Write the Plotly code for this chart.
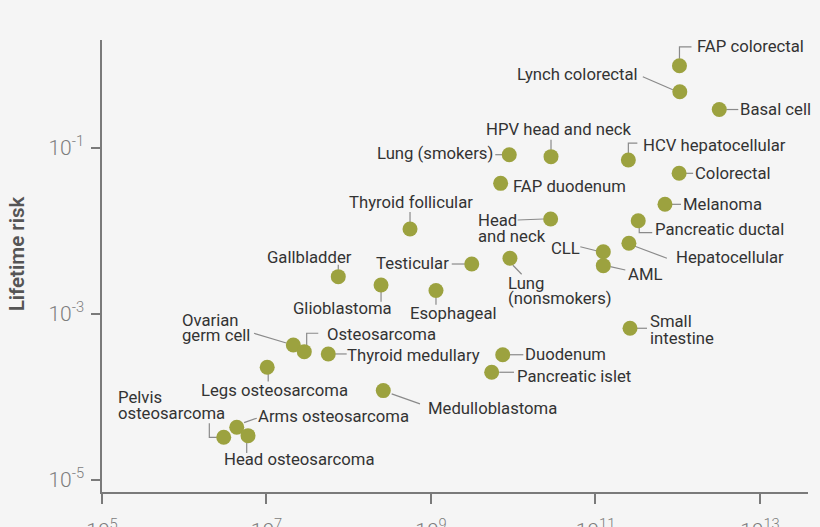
import math
import plotly.graph_objects as go

# ---------------- data ----------------
cancer_types = [
    "FAP colorectal", "Lynch colorectal", "Basal cell", "Lung (smokers)",
    "HPV head and neck", "HCV hepatocellular", "Colorectal", "FAP duodenum",
    "Melanoma", "Head and neck", "Pancreatic ductal", "Hepatocellular",
    "CLL", "AML", "Lung (nonsmokers)", "Testicular", "Thyroid follicular",
    "Gallbladder", "Glioblastoma", "Esophageal", "Small intestine",
    "Ovarian germ cell", "Osteosarcoma", "Thyroid medullary", "Duodenum",
    "Pancreatic islet", "Legs osteosarcoma", "Medulloblastoma",
    "Arms osteosarcoma", "Pelvis osteosarcoma", "Head osteosarcoma",
]
stem_cell_divisions = [
    1.05e12, 1.06e12, 3.2e12, 8.95e9,
    2.88e10, 2.51e11, 1.04e12, 7.03e9,
    7.0e11, 2.85e10, 3.31e11, 2.55e11,
    1.245e11, 1.245e11, 9.12e9, 3.13e9, 5.56e8,
    7.46e7, 2.47e8, 1.15e9, 2.63e11,
    2.12e7, 2.88e7, 5.64e7, 7.45e9,
    5.47e9, 1.02e7, 2.63e8,
    4.35e6, 3.02e6, 5.96e6,
]
lifetime_risk = [
    0.975, 0.475, 0.29, 0.0828,
    0.0784, 0.0714, 0.0494, 0.0374,
    0.0209, 0.0139, 0.01327, 0.0071,
    0.00561, 0.00381, 0.00468, 0.00399, 0.01055,
    0.00281, 0.00223, 0.00191, 0.000671,
    0.000422, 0.000351, 0.000329, 0.000322,
    0.000198, 0.000228, 0.000119,
    0.0000431, 0.0000326, 0.0000341,
]
x_tick_values = [1e5, 1e7, 1e9, 1e11, 1e13]
x_tick_labels = ["10<sup>5</sup>", "10<sup>7</sup>", "10<sup>9</sup>", "10<sup>11</sup>", "10<sup>13</sup>"]
y_tick_values = [1e-5, 1e-3, 1e-1]
y_tick_labels = ["10<sup>-5</sup>", "10<sup>-3</sup>", "10<sup>-1</sup>"]
y_title = "Lifetime risk"

# ---------------- label placement (pixel offsets from each dot, screen-down positive) ----------------
L = {
    "FAP colorectal": dict(a="left", dx=18, dy=[-19.7], path=[(0, -7), (0, -19), (12, -19)]),
    "Lynch colorectal": dict(a="right", dx=-42, dy=[-17.4], path=[(-7, -2), (-37, -15)]),
    "Basal cell": dict(a="left", dx=21, dy=[0], path=[(7, 0), (19, 0)]),
    "Lung (smokers)": dict(a="right", dx=-16.6, dy=[-1], path=[(-7, 0), (-14, 0)]),
    "HPV head and neck": dict(a="center", dx=7.5, dy=[-27.4], path=[(0, -7), (0, -17)]),
    "HCV hepatocellular": dict(a="left", dx=15, dy=[-15], path=[(0, -7), (0, -17), (9, -17)]),
    "Colorectal": dict(a="left", dx=16, dy=[0.5], path=[(7, 0), (14, 0)]),
    "FAP duodenum": dict(a="left", dx=12.6, dy=[3.4], path=None),
    "Melanoma": dict(a="left", dx=18.3, dy=[0], path=[(7, 0), (16, 0)]),
    "Head and neck": dict(a="left", dx=-72.4, dy=[1, 17.7], lines=["Head", "and neck"], path=[(-7, 0), (-33, 1)]),
    "Pancreatic ductal": dict(a="left", dx=16.7, dy=[8.6], path=[(1, 6), (1, 12), (14, 12)]),
    "Hepatocellular": dict(a="left", dx=47, dy=[14], path=[(6, 3), (38, 15)]),
    "CLL": dict(a="right", dx=-23.3, dy=[-3.4], path=[(-7, -1), (-23, -5)]),
    "AML": dict(a="left", dx=24.4, dy=[9.3], path=[(7, 1), (22, 4.3)]),
    "Lung (nonsmokers)": dict(a="left", dx=-2.3, dy=[25, 40], lines=["Lung", "(nonsmokers)"], path=[(3, 7), (11.7, 16)]),
    "Testicular": dict(a="right", dx=-22.4, dy=[-0.7], path=[(-7, 0), (-20, 0)]),
    "Thyroid follicular": dict(a="center", dx=0.8, dy=[-26.3], path=[(0, -7), (0, -17)]),
    "Gallbladder": dict(a="right", dx=13.4, dy=[-19.4], path=[(0, -7), (0, -12)]),
    "Glioblastoma": dict(a="right", dx=10.7, dy=[23.3], path=[(0, 7), (0, 16.7)]),
    "Esophageal": dict(a="left", dx=-26, dy=[23.3], path=[(0, 7), (0, 14.3)]),
    "Small intestine": dict(a="left", dx=20, dy=[-7, 10], lines=["Small", "intestine"], path=[(7, 0), (17, 0)]),
    "Ovarian germ cell": dict(a="left", dx=-111.6, dy=[-24.3, -9], lines=["Ovarian", "germ cell"], path=[(-7, -2), (-39.3, -11.7)]),
    "Osteosarcoma": dict(a="left", dx=22.4, dy=[-17], path=[(2.4, -6.7), (2.4, -18.4), (14, -18.4)]),
    "Thyroid medullary": dict(a="left", dx=18.4, dy=[2], path=[(7, 0), (18.4, 0)]),
    "Duodenum": dict(a="left", dx=22.3, dy=[0], path=[(7, 0), (20.6, 0)]),
    "Pancreatic islet": dict(a="left", dx=25.6, dy=[4.4], path=[(7.6, 0), (22.3, 0)]),
    "Legs osteosarcoma": dict(a="center", dx=6.9, dy=[23.7], path=[(1, 6.7), (1, 14.4)]),
    "Medulloblastoma": dict(a="left", dx=45, dy=[17.6], path=[(8.4, 3.3), (36.7, 13.3)]),
    "Arms osteosarcoma": dict(a="left", dx=21.6, dy=[-10.6], path=[(7.3, -4.6), (20, -9)]),
    "Pelvis osteosarcoma": dict(a="left", dx=-105.4, dy=[-40, -23.3], lines=["Pelvis", "osteosarcoma"], path=[(-7, 0), (-14.4, 0), (-14.4, -14)]),
    "Head osteosarcoma": dict(a="left", dx=-23.7, dy=[23.6], path=[(-1.3, 7.3), (-1.3, 17.3)]),
}

BG = "#f5f5f5"
DOT = "#9ca23f"
AXIS = "#7a7a7a"
LEADER = "#8a8a8a"
TXT = "#333333"
FONT = "Roboto"

fig = go.Figure()
fig.add_trace(go.Scatter(
    x=stem_cell_divisions, y=lifetime_risk, mode="markers", text=cancer_types,
    marker=dict(size=15, color=DOT, line=dict(width=0)),
    hoverinfo="text", showlegend=False,
))

annotations = []
shapes = []
for name, xv, yv in zip(cancer_types, stem_cell_divisions, lifetime_risk):
    cfg = L[name]
    lines = cfg.get("lines", [name])
    for txt, dy in zip(lines, cfg["dy"]):
        annotations.append(dict(
            x=math.log10(xv), y=math.log10(yv), xref="x", yref="y",
            text=txt, showarrow=False, xanchor=cfg["a"], yanchor="middle",
            xshift=cfg["dx"], yshift=-dy, borderpad=0, borderwidth=0,
            font=dict(family=FONT, size=16.7, color=TXT),
        ))
    if cfg["path"]:
        pts = cfg["path"]
        d = "M %s,%s " % (pts[0][0], -pts[0][1]) + " ".join("L %s,%s" % (px, -py) for px, py in pts[1:])
        shapes.append(dict(
            type="path", path=d, xref="x", yref="y",
            xsizemode="pixel", ysizemode="pixel", xanchor=xv, yanchor=yv,
            line=dict(color=LEADER, width=1.2), layer="below",
        ))

annotations.append(dict(
    x=-0.121, y=0.527, xref="paper", yref="paper", text=y_title, textangle=-90,
    showarrow=False, xanchor="center", yanchor="middle",
    font=dict(family=FONT, size=20.5, color="#555555", weight=600),
))

fig.update_layout(
    width=820, height=527,
    margin=dict(l=102, r=12, t=40, b=35, autoexpand=False),
    paper_bgcolor=BG, plot_bgcolor=BG,
    annotations=annotations, shapes=shapes,
    xaxis=dict(
        type="log", range=[5, 13.584], showgrid=False, zeroline=False,
        showline=True, linecolor=AXIS, linewidth=1.5, automargin=False,
        ticks="outside", ticklen=10, tickwidth=1.5, tickcolor=AXIS,
        tickvals=x_tick_values, ticktext=x_tick_labels,
        ticklabelstandoff=9,
        tickfont=dict(family=FONT, size=21, color="#7d7d7d", weight=300),
    ),
    yaxis=dict(
        type="log", range=[-5.146, 0.300], showgrid=False, zeroline=False,
        showline=True, linecolor=AXIS, linewidth=1.5, automargin=False,
        ticks="outside", ticklen=9, tickwidth=1.5, tickcolor=AXIS,
        tickvals=y_tick_values, ticktext=y_tick_labels,
        ticklabelstandoff=3,
        tickfont=dict(family=FONT, size=21, color="#7d7d7d", weight=300),
    ),
    font=dict(family=FONT),
)

fig.write_html("out.html")
